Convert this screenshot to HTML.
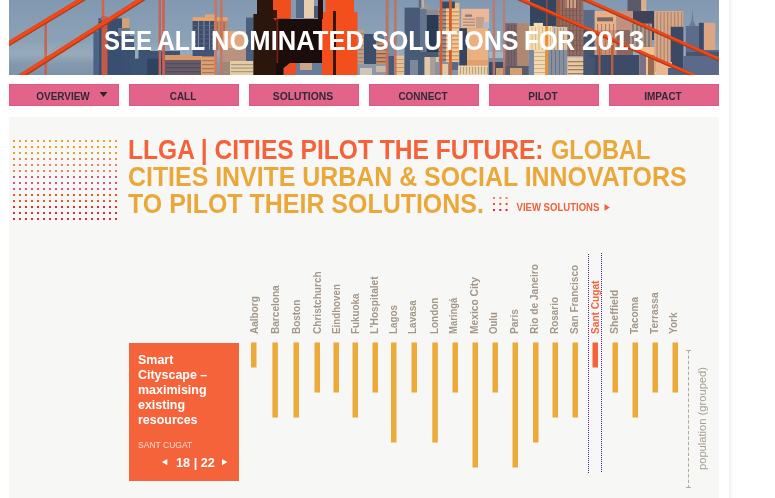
<!DOCTYPE html>
<html><head><meta charset="utf-8">
<style>
html,body{margin:0;padding:0;background:#fff;}
body{width:775px;height:498px;overflow:hidden;position:relative;font-family:"Liberation Sans",sans-serif;}
.abs{position:absolute;}
#banner{left:9px;top:0;width:710px;height:75px;overflow:hidden;}
.tw{top:25px;font-weight:bold;font-size:28px;line-height:32px;color:#fff;white-space:nowrap;transform-origin:0 0;}
.nav{top:84px;width:110px;height:22px;background:#e3648a;box-sizing:border-box;border:1px solid #e05a84;}
.nav span{position:absolute;left:-2px;top:-1px;width:110px;text-align:center;font-weight:bold;font-size:11px;line-height:24px;color:#2e2a33;white-space:nowrap;transform:scaleX(0.905);}
#panel{left:9px;top:117px;width:710px;height:381px;background:#f7f7f5;}
#vline{left:729px;top:0;width:4px;height:498px;background:linear-gradient(to right,#efefef,#f3f3f3 25%,#f9f9f9 60%,#fff);}
.h{font-weight:bold;font-size:26.8px;line-height:27px;white-space:nowrap;transform-origin:0 0;}
#card{left:129px;top:343px;width:110px;height:138px;background:#f5633b;}
#card .t{left:9px;top:9px;color:#fff;font-weight:bold;font-size:13px;line-height:15px;white-space:nowrap;transform-origin:0 0;transform:scaleX(0.958);}
svg text{font-family:"Liberation Sans",sans-serif;}
</style></head><body>
<div id="banner" class="abs"><svg width="710" height="75" viewBox="0 0 710 75" style="display:block">
<defs><linearGradient id="sky" x1="0" y1="0" x2="0" y2="1"><stop offset="0" stop-color="#8198b1"/><stop offset="0.55" stop-color="#8ba2b6"/><stop offset="0.72" stop-color="#98abbc"/><stop offset="0.85" stop-color="#8399ae"/><stop offset="1" stop-color="#7b93aa"/></linearGradient><filter id="bl" x="-2%" y="-10%" width="104%" height="120%"><feGaussianBlur stdDeviation="0.6"/></filter><filter id="bl2" x="-2%" y="-10%" width="104%" height="120%"><feGaussianBlur stdDeviation="0.4"/></filter></defs>
<rect x="0" y="0" width="710" height="75" fill="url(#sky)"/>
<g filter="url(#bl)">
<rect x="84.4" y="31.3" width="5.0" height="43.7" fill="#4a6388"/>
<rect x="89.4" y="18.3" width="23.6" height="56.7" fill="#37506f"/>
<rect x="113.0" y="18.3" width="7.4" height="9.9" fill="#d8a070"/>
<rect x="109.0" y="28.0" width="12.0" height="8.0" fill="#6a7890"/>
<rect x="113.0" y="36.0" width="12.0" height="14.0" fill="#4a5c7a"/>
<rect x="113.0" y="50.0" width="28.0" height="25.0" fill="#3a5070"/>
<rect x="121.0" y="51.0" width="50.0" height="24.0" fill="#3c5272"/>
<rect x="126.0" y="48.8" width="3.5" height="9.9" fill="#9aaabb"/>
<rect x="138.2" y="58.7" width="14.5" height="16.3" fill="#2e4262"/>
<rect x="155.7" y="55.0" width="36.3" height="5.0" fill="#d8986c"/>
<rect x="155.7" y="60.0" width="36.3" height="15.0" fill="#6a5a64"/>
<rect x="157.0" y="63.0" width="34.0" height="1.3" fill="#4e4c62"/>
<rect x="157.0" y="67.0" width="34.0" height="1.3" fill="#4e4c62"/>
<rect x="157.0" y="71.0" width="34.0" height="1.3" fill="#4e4c62"/>
<rect x="192.0" y="52.0" width="16.0" height="23.0" fill="#dca070"/>
<rect x="193.0" y="56.0" width="12.0" height="1.2" fill="#a87858"/>
<rect x="193.0" y="60.0" width="12.0" height="1.2" fill="#a87858"/>
<rect x="193.0" y="64.0" width="12.0" height="1.2" fill="#a87858"/>
<rect x="193.0" y="68.0" width="12.0" height="1.2" fill="#a87858"/>
<rect x="193.0" y="72.0" width="12.0" height="1.2" fill="#a87858"/>
<rect x="183.6" y="21.0" width="21.4" height="29.0" fill="#3f4d6a"/>
<rect x="205.0" y="21.0" width="13.7" height="29.0" fill="#c08a6a"/>
<rect x="183.6" y="17.3" width="35.1" height="3.5" fill="#eea468"/>
<rect x="196.0" y="14.5" width="10.0" height="3.0" fill="#e8a470"/>
<rect x="189.0" y="21.0" width="0.9" height="29.0" fill="#8a98ae"/>
<rect x="194.5" y="21.0" width="0.9" height="29.0" fill="#8a98ae"/>
<rect x="200.0" y="21.0" width="0.9" height="29.0" fill="#8a98ae"/>
<rect x="184.0" y="25.0" width="21.0" height="0.8" fill="#5a6884"/>
<rect x="184.0" y="29.5" width="21.0" height="0.8" fill="#5a6884"/>
<rect x="184.0" y="34.0" width="21.0" height="0.8" fill="#5a6884"/>
<rect x="184.0" y="38.5" width="21.0" height="0.8" fill="#5a6884"/>
<rect x="184.0" y="43.0" width="21.0" height="0.8" fill="#5a6884"/>
<rect x="184.0" y="47.5" width="21.0" height="0.8" fill="#5a6884"/>
<rect x="207.5" y="22.0" width="1.2" height="28.0" fill="#8a6a60"/>
<rect x="211.0" y="22.0" width="1.2" height="28.0" fill="#8a6a60"/>
<rect x="214.5" y="22.0" width="1.2" height="28.0" fill="#8a6a60"/>
<rect x="183.6" y="50.0" width="21.4" height="6.0" fill="#3f5575"/>
<rect x="214.0" y="31.0" width="23.0" height="17.0" fill="#e0a87c"/>
<rect x="214.0" y="48.0" width="23.0" height="14.0" fill="#b89480"/>
<rect x="214.0" y="62.0" width="9.0" height="13.0" fill="#a08878"/>
<rect x="237.0" y="17.6" width="7.5" height="44.4" fill="#4a6080"/>
<rect x="221.0" y="61.0" width="23.5" height="14.0" fill="#e6cca4"/>
<rect x="222.0" y="64.0" width="22.0" height="1.2" fill="#a89880"/>
<rect x="222.0" y="67.5" width="22.0" height="1.2" fill="#a89880"/>
<rect x="222.0" y="71.0" width="22.0" height="1.2" fill="#a89880"/>
<rect x="282.0" y="0.0" width="5.0" height="18.0" fill="#8599b2"/>
<rect x="287.0" y="0.0" width="8.0" height="18.0" fill="#5a6a88"/>
<rect x="295.0" y="0.0" width="10.0" height="18.0" fill="#e8cdb0"/>
<rect x="305.0" y="6.0" width="8.0" height="12.0" fill="#4a5a78"/>
<rect x="286.0" y="63.0" width="27.0" height="12.0" fill="#6a7c98"/>
<rect x="291.0" y="63.0" width="12.0" height="7.0" fill="#c8a888"/>
<rect x="348.5" y="29.7" width="6.5" height="40.3" fill="#c0a088"/>
<rect x="349.0" y="33.0" width="6.0" height="1.3" fill="#9a8478"/>
<rect x="349.0" y="37.0" width="6.0" height="1.3" fill="#9a8478"/>
<rect x="349.0" y="41.0" width="6.0" height="1.3" fill="#9a8478"/>
<rect x="349.0" y="45.0" width="6.0" height="1.3" fill="#9a8478"/>
<rect x="349.0" y="49.0" width="6.0" height="1.3" fill="#9a8478"/>
<rect x="349.0" y="53.0" width="6.0" height="1.3" fill="#9a8478"/>
<rect x="349.0" y="57.0" width="6.0" height="1.3" fill="#9a8478"/>
<rect x="349.0" y="61.0" width="6.0" height="1.3" fill="#9a8478"/>
<rect x="349.0" y="65.0" width="6.0" height="1.3" fill="#9a8478"/>
<rect x="349.0" y="69.0" width="6.0" height="1.3" fill="#9a8478"/>
<rect x="355.0" y="34.0" width="12.4" height="34.0" fill="#3e4d6c"/>
<rect x="367.4" y="34.0" width="7.6" height="9.0" fill="#6a7890"/>
<rect x="367.4" y="42.7" width="11.4" height="21.3" fill="#d09060"/>
<rect x="367.4" y="45.0" width="11.4" height="1.3" fill="#7a6460"/>
<rect x="367.4" y="49.0" width="11.4" height="1.3" fill="#7a6460"/>
<rect x="367.4" y="53.0" width="11.4" height="1.3" fill="#7a6460"/>
<rect x="367.4" y="57.0" width="11.4" height="1.3" fill="#7a6460"/>
<rect x="367.4" y="61.0" width="11.4" height="1.3" fill="#7a6460"/>
<rect x="348.5" y="64.0" width="37.5" height="11.0" fill="#8e98a8"/>
<rect x="351.0" y="68.0" width="12.0" height="7.0" fill="#d0c4b4"/>
<rect x="367.0" y="66.0" width="10.0" height="6.0" fill="#c8b8a8"/>
<rect x="379.0" y="41.0" width="7.0" height="15.0" fill="#7a8aa0"/>
<rect x="379.0" y="56.0" width="7.0" height="19.0" fill="#4a5a74"/>
<rect x="385.0" y="55.7" width="10.0" height="19.3" fill="#e8c098"/>
<rect x="385.5" y="59.0" width="9.5" height="1.1" fill="#c89870"/>
<rect x="385.5" y="63.0" width="9.5" height="1.1" fill="#c89870"/>
<rect x="385.5" y="67.0" width="9.5" height="1.1" fill="#c89870"/>
<rect x="385.5" y="71.0" width="9.5" height="1.1" fill="#c89870"/>
<rect x="395.6" y="7.6" width="16.0" height="46.4" fill="#4a5a78"/>
<rect x="411.6" y="7.6" width="6.1" height="46.4" fill="#66768f"/>
<rect x="411.0" y="5.0" width="10.0" height="4.0" fill="#a09890"/>
<rect x="409.8" y="0.0" width="2.7" height="7.6" fill="#5a6a80"/>
<rect x="412.5" y="0.0" width="2.5" height="7.6" fill="#c0b0a0"/>
<rect x="417.7" y="10.0" width="12.3" height="5.0" fill="#8a8a90"/>
<rect x="417.7" y="15.0" width="12.3" height="37.0" fill="#2c3a55"/>
<rect x="395.6" y="52.0" width="35.4" height="23.0" fill="#4a5a74"/>
<rect x="401.0" y="60.0" width="8.0" height="15.0" fill="#7a88a0"/>
<rect x="415.4" y="57.0" width="16.0" height="18.0" fill="#e0c8a8"/>
<rect x="421.0" y="57.0" width="6.0" height="18.0" fill="#a8a098"/>
<rect x="429.8" y="8.0" width="20.6" height="54.0" fill="#f0c898"/>
<rect x="429.8" y="8.0" width="7.2" height="54.0" fill="#b09080"/>
<rect x="433.0" y="1.5" width="12.8" height="6.9" fill="#3a4a64"/>
<rect x="437.0" y="11.0" width="13.0" height="1.5" fill="#d89860"/>
<rect x="437.0" y="15.0" width="13.0" height="1.5" fill="#d89860"/>
<rect x="437.0" y="19.0" width="13.0" height="1.5" fill="#d89860"/>
<rect x="437.0" y="23.0" width="13.0" height="1.5" fill="#d89860"/>
<rect x="437.0" y="27.0" width="13.0" height="1.5" fill="#d89860"/>
<rect x="437.0" y="31.0" width="13.0" height="1.5" fill="#d89860"/>
<rect x="437.0" y="35.0" width="13.0" height="1.5" fill="#d89860"/>
<rect x="437.0" y="39.0" width="13.0" height="1.5" fill="#d89860"/>
<rect x="437.0" y="43.0" width="13.0" height="1.5" fill="#d89860"/>
<rect x="437.0" y="47.0" width="13.0" height="1.5" fill="#d89860"/>
<rect x="437.0" y="51.0" width="13.0" height="1.5" fill="#d89860"/>
<rect x="437.0" y="55.0" width="13.0" height="1.5" fill="#d89860"/>
<rect x="437.0" y="59.0" width="13.0" height="1.5" fill="#d89860"/>
<rect x="430.0" y="11.0" width="7.0" height="1.5" fill="#6a6a78"/>
<rect x="430.0" y="15.0" width="7.0" height="1.5" fill="#6a6a78"/>
<rect x="430.0" y="19.0" width="7.0" height="1.5" fill="#6a6a78"/>
<rect x="430.0" y="23.0" width="7.0" height="1.5" fill="#6a6a78"/>
<rect x="430.0" y="27.0" width="7.0" height="1.5" fill="#6a6a78"/>
<rect x="430.0" y="31.0" width="7.0" height="1.5" fill="#6a6a78"/>
<rect x="430.0" y="35.0" width="7.0" height="1.5" fill="#6a6a78"/>
<rect x="430.0" y="39.0" width="7.0" height="1.5" fill="#6a6a78"/>
<rect x="430.0" y="43.0" width="7.0" height="1.5" fill="#6a6a78"/>
<rect x="430.0" y="47.0" width="7.0" height="1.5" fill="#6a6a78"/>
<rect x="430.0" y="51.0" width="7.0" height="1.5" fill="#6a6a78"/>
<rect x="430.0" y="55.0" width="7.0" height="1.5" fill="#6a6a78"/>
<rect x="430.0" y="59.0" width="7.0" height="1.5" fill="#6a6a78"/>
<rect x="446.0" y="3.0" width="4.4" height="5.0" fill="#e8b888"/>
<rect x="452.2" y="8.8" width="27.9" height="19.4" fill="#eab898"/>
<rect x="456.0" y="14.5" width="7.0" height="2.3" fill="#8a7878"/>
<rect x="454.0" y="18.5" width="12.0" height="1.4" fill="#b09080"/>
<rect x="454.0" y="21.5" width="12.0" height="1.4" fill="#b09080"/>
<rect x="454.0" y="24.5" width="12.0" height="1.4" fill="#b09080"/>
<rect x="467.5" y="17.0" width="1.0" height="11.0" fill="#a08878"/>
<rect x="469.5" y="17.0" width="1.0" height="11.0" fill="#a08878"/>
<rect x="471.5" y="17.0" width="1.0" height="11.0" fill="#a08878"/>
<rect x="473.5" y="17.0" width="1.0" height="11.0" fill="#a08878"/>
<rect x="474.0" y="22.0" width="6.0" height="6.0" fill="#b0b8c8"/>
<rect x="450.4" y="28.2" width="7.6" height="37.4" fill="#34455f"/>
<rect x="458.0" y="28.2" width="21.0" height="46.8" fill="#eab080"/>
<rect x="458.0" y="60.0" width="21.0" height="15.0" fill="#e0a070"/>
<rect x="426.0" y="62.0" width="23.0" height="13.0" fill="#8a92a4"/>
<rect x="431.0" y="64.0" width="8.0" height="11.0" fill="#e0c8a8"/>
<rect x="443.0" y="62.0" width="6.0" height="8.0" fill="#5a6a84"/>
<rect x="449.0" y="65.6" width="30.0" height="9.4" fill="#e8d0a8"/>
<rect x="451.0" y="67.0" width="1.0" height="7.0" fill="#b8a080"/>
<rect x="454.0" y="67.0" width="1.0" height="7.0" fill="#b8a080"/>
<rect x="457.0" y="67.0" width="1.0" height="7.0" fill="#b8a080"/>
<rect x="460.0" y="67.0" width="1.0" height="7.0" fill="#b8a080"/>
<rect x="463.0" y="67.0" width="1.0" height="7.0" fill="#b8a080"/>
<rect x="466.0" y="67.0" width="1.0" height="7.0" fill="#b8a080"/>
<rect x="469.0" y="67.0" width="1.0" height="7.0" fill="#b8a080"/>
<rect x="472.0" y="67.0" width="1.0" height="7.0" fill="#b8a080"/>
<rect x="475.0" y="67.0" width="1.0" height="7.0" fill="#b8a080"/>
<rect x="478.0" y="67.0" width="1.0" height="7.0" fill="#b8a080"/>
<rect x="480.0" y="52.0" width="16.2" height="6.0" fill="#a8b6c4"/>
<rect x="480.0" y="58.0" width="16.2" height="4.0" fill="#7a8aa0"/>
<rect x="480.0" y="62.0" width="16.2" height="13.0" fill="#3e4c62"/>
<rect x="487.0" y="68.0" width="7.0" height="7.0" fill="#c8a070"/>
<rect x="496.2" y="23.2" width="12.2" height="42.8" fill="#7a6468"/>
<rect x="508.4" y="23.2" width="11.3" height="42.8" fill="#b08870"/>
<rect x="499.0" y="25.0" width="1.0" height="41.0" fill="#6a5860"/>
<rect x="502.0" y="25.0" width="1.0" height="41.0" fill="#6a5860"/>
<rect x="505.0" y="25.0" width="1.0" height="41.0" fill="#6a5860"/>
<rect x="496.2" y="66.0" width="23.5" height="9.0" fill="#5a5a68"/>
<rect x="501.0" y="68.0" width="12.0" height="7.0" fill="#d0a070"/>
<rect x="521.0" y="0.0" width="26.6" height="26.0" fill="#36445e"/>
<rect x="537.0" y="0.0" width="1.5" height="26.0" fill="#8a5040"/>
<rect x="547.6" y="0.0" width="3.4" height="57.0" fill="#a05838"/>
<rect x="551.0" y="0.0" width="23.3" height="56.0" fill="#946c64"/>
<rect x="556.0" y="0.0" width="11.0" height="8.0" fill="#d0a080"/>
<rect x="553.0" y="0.0" width="1.1" height="56.0" fill="#7a5850"/>
<rect x="556.5" y="0.0" width="1.1" height="56.0" fill="#7a5850"/>
<rect x="560.0" y="0.0" width="1.1" height="56.0" fill="#7a5850"/>
<rect x="563.5" y="0.0" width="1.1" height="56.0" fill="#7a5850"/>
<rect x="567.0" y="0.0" width="1.1" height="56.0" fill="#7a5850"/>
<rect x="570.5" y="0.0" width="1.1" height="56.0" fill="#7a5850"/>
<rect x="551.0" y="10.0" width="23.3" height="1.0" fill="#7a5850" opacity="0.6"/>
<rect x="551.0" y="15.0" width="23.3" height="1.0" fill="#7a5850" opacity="0.6"/>
<rect x="551.0" y="20.0" width="23.3" height="1.0" fill="#7a5850" opacity="0.6"/>
<rect x="551.0" y="25.0" width="23.3" height="1.0" fill="#7a5850" opacity="0.6"/>
<rect x="551.0" y="30.0" width="23.3" height="1.0" fill="#7a5850" opacity="0.6"/>
<rect x="551.0" y="35.0" width="23.3" height="1.0" fill="#7a5850" opacity="0.6"/>
<rect x="551.0" y="40.0" width="23.3" height="1.0" fill="#7a5850" opacity="0.6"/>
<rect x="551.0" y="45.0" width="23.3" height="1.0" fill="#7a5850" opacity="0.6"/>
<rect x="551.0" y="50.0" width="23.3" height="1.0" fill="#7a5850" opacity="0.6"/>
<rect x="551.0" y="55.0" width="23.3" height="1.0" fill="#7a5850" opacity="0.6"/>
<rect x="520.0" y="26.0" width="23.0" height="24.0" fill="#f4dcb0"/>
<rect x="543.0" y="27.0" width="15.3" height="23.0" fill="#d8c0a0"/>
<rect x="524.7" y="22.9" width="9.3" height="3.1" fill="#f4dcb0"/>
<rect x="522.5" y="27.0" width="1.0" height="23.0" fill="#dcb888"/>
<rect x="526.0" y="27.0" width="1.0" height="23.0" fill="#dcb888"/>
<rect x="529.5" y="27.0" width="1.0" height="23.0" fill="#dcb888"/>
<rect x="533.0" y="27.0" width="1.0" height="23.0" fill="#dcb888"/>
<rect x="541.0" y="27.0" width="1.0" height="23.0" fill="#dcb888"/>
<rect x="545.0" y="28.0" width="1.0" height="22.0" fill="#a89888"/>
<rect x="548.0" y="28.0" width="1.0" height="22.0" fill="#a89888"/>
<rect x="551.0" y="28.0" width="1.0" height="22.0" fill="#a89888"/>
<rect x="554.0" y="28.0" width="1.0" height="22.0" fill="#a89888"/>
<rect x="520.0" y="50.0" width="5.0" height="25.0" fill="#7888a0"/>
<rect x="525.0" y="50.0" width="11.2" height="25.0" fill="#f0d8b0"/>
<rect x="525.0" y="52.0" width="11.0" height="1.0" fill="#d0b088"/>
<rect x="525.0" y="56.0" width="11.0" height="1.0" fill="#d0b088"/>
<rect x="525.0" y="60.0" width="11.0" height="1.0" fill="#d0b088"/>
<rect x="525.0" y="64.0" width="11.0" height="1.0" fill="#d0b088"/>
<rect x="525.0" y="68.0" width="11.0" height="1.0" fill="#d0b088"/>
<rect x="525.0" y="72.0" width="11.0" height="1.0" fill="#d0b088"/>
<rect x="539.2" y="50.0" width="19.1" height="25.0" fill="#8890a0"/>
<rect x="542.0" y="50.0" width="1.0" height="25.0" fill="#6a7488"/>
<rect x="546.0" y="50.0" width="1.0" height="25.0" fill="#6a7488"/>
<rect x="550.0" y="50.0" width="1.0" height="25.0" fill="#6a7488"/>
<rect x="554.0" y="50.0" width="1.0" height="25.0" fill="#6a7488"/>
<rect x="536.2" y="26.0" width="3.0" height="49.0" fill="#e8903c"/>
<rect x="558.3" y="57.2" width="19.7" height="17.8" fill="#e8c8a0"/>
<rect x="559.0" y="61.0" width="19.0" height="1.3" fill="#9a8068"/>
<rect x="559.0" y="65.0" width="19.0" height="1.3" fill="#9a8068"/>
<rect x="559.0" y="69.0" width="19.0" height="1.3" fill="#9a8068"/>
<rect x="559.0" y="73.0" width="19.0" height="1.3" fill="#9a8068"/>
<rect x="574.3" y="10.0" width="11.4" height="20.0" fill="#5a6a84"/>
<rect x="574.3" y="30.0" width="11.4" height="45.0" fill="#44546e"/>
<rect x="585.7" y="11.0" width="21.8" height="19.0" fill="#e6b088"/>
<rect x="588.0" y="17.3" width="16.0" height="4.0" fill="#7a6860"/>
<rect x="585.7" y="30.0" width="21.8" height="25.0" fill="#d09070"/>
<rect x="588.0" y="24.0" width="1.0" height="31.0" fill="#b07860"/>
<rect x="592.0" y="24.0" width="1.0" height="31.0" fill="#b07860"/>
<rect x="596.0" y="24.0" width="1.0" height="31.0" fill="#b07860"/>
<rect x="600.0" y="24.0" width="1.0" height="31.0" fill="#b07860"/>
<rect x="604.0" y="24.0" width="1.0" height="31.0" fill="#b07860"/>
<rect x="581.0" y="55.0" width="50.0" height="20.0" fill="#3c4c68"/>
<rect x="578.0" y="57.0" width="7.7" height="18.0" fill="#44546e"/>
<rect x="589.5" y="45.0" width="2.0" height="30.0" fill="#b86040"/>
<rect x="602.0" y="45.0" width="2.4" height="30.0" fill="#b86040"/>
<rect x="618.5" y="0.0" width="13.7" height="11.0" fill="#5a5a68"/>
<rect x="632.2" y="0.0" width="5.2" height="11.0" fill="#d8b090"/>
<rect x="607.5" y="11.0" width="16.5" height="19.0" fill="#c09080"/>
<rect x="607.5" y="30.0" width="16.5" height="25.0" fill="#8a6860"/>
<rect x="624.0" y="11.0" width="21.3" height="29.0" fill="#40435a"/>
<rect x="621.0" y="23.6" width="22.0" height="26.4" fill="#b09888"/>
<rect x="623.0" y="24.0" width="2.0" height="26.0" fill="#7a6868" opacity="0.7"/>
<rect x="627.0" y="24.0" width="2.0" height="26.0" fill="#7a6868" opacity="0.7"/>
<rect x="631.0" y="24.0" width="2.0" height="26.0" fill="#7a6868" opacity="0.7"/>
<rect x="635.0" y="24.0" width="2.0" height="26.0" fill="#7a6868" opacity="0.7"/>
<rect x="639.0" y="24.0" width="2.0" height="26.0" fill="#7a6868" opacity="0.7"/>
<rect x="630.4" y="47.0" width="30.6" height="28.0" fill="#f0c090"/>
<rect x="639.0" y="55.0" width="6.3" height="20.0" fill="#9a6a50"/>
<rect x="630.4" y="52.0" width="6.6" height="23.0" fill="#7a7088"/>
<rect x="645.3" y="11.0" width="29.1" height="61.0" fill="#d8a888"/>
<rect x="647.5" y="12.0" width="1.3" height="58.0" fill="#b08870"/>
<rect x="651.0" y="12.0" width="1.3" height="58.0" fill="#b08870"/>
<rect x="654.5" y="12.0" width="1.3" height="58.0" fill="#b08870"/>
<rect x="658.0" y="12.0" width="1.3" height="58.0" fill="#b08870"/>
<rect x="661.5" y="12.0" width="1.3" height="58.0" fill="#b08870"/>
<rect x="665.0" y="12.0" width="1.3" height="58.0" fill="#b08870"/>
<rect x="668.5" y="12.0" width="1.3" height="58.0" fill="#b08870"/>
<rect x="672.0" y="12.0" width="1.3" height="58.0" fill="#b08870"/>
<rect x="661.8" y="26.8" width="12.6" height="43.2" fill="#3a4a66"/>
<rect x="647.0" y="62.0" width="16.0" height="13.0" fill="#e8b890"/>
<rect x="659.0" y="68.0" width="22.0" height="7.0" fill="#506080"/>
<rect x="676.8" y="26.0" width="13.1" height="49.0" fill="#5c6c8a"/>
<polygon points="680.0,26.0 682.5,21.0 683.4,8.7 684.3,21.0 687.0,26.0" fill="#6c7c98"/>
<rect x="689.9" y="22.8" width="5.0" height="52.2" fill="#3c4c6c"/>
<rect x="694.9" y="22.8" width="11.3" height="27.2" fill="#dca684"/>
<rect x="689.9" y="50.0" width="20.1" height="25.0" fill="#566886"/>
<rect x="677.0" y="52.0" width="33.0" height="4.0" fill="#46566f"/>
<rect x="674.4" y="56.0" width="35.6" height="19.0" fill="#5a6a88"/>
</g>
<g filter="url(#bl2)">
<rect x="35.3" y="22.0" width="2.7" height="53.0" fill="#c8604c" opacity="0.9"/>
<rect x="92.8" y="0.0" width="2.5" height="16.0" fill="#d9644a"/>
<rect x="92.5" y="16.0" width="6.0" height="59.0" fill="#c25a48"/>
<rect x="149.6" y="0.0" width="2.4" height="75.0" fill="#c9634f"/>
<rect x="153.2" y="0.0" width="2.6" height="75.0" fill="#c9634f"/>
<rect x="205.4" y="0.0" width="2.6" height="75.0" fill="#d07058" opacity="0.85"/>
<rect x="210.8" y="0.0" width="2.9" height="75.0" fill="#d07058" opacity="0.85"/>
<rect x="376.6" y="0.0" width="3.0" height="75.0" fill="#c07060" opacity="0.9"/>
<rect x="385.0" y="0.0" width="2.6" height="75.0" fill="#c07060" opacity="0.9"/>
<rect x="430.8" y="0.0" width="2.5" height="75.0" fill="#d06030"/>
<rect x="440.0" y="0.0" width="2.8" height="75.0" fill="#d06030"/>
<rect x="483.6" y="0.0" width="2.6" height="75.0" fill="#c07868" opacity="0.9"/>
<rect x="494.0" y="0.0" width="2.2" height="75.0" fill="#c07868" opacity="0.9"/>
<rect x="244.4" y="14.0" width="22.6" height="61.0" fill="#2a1210"/>
<rect x="248.0" y="0.0" width="19.0" height="14.0" fill="#2a1210"/>
<rect x="264.0" y="0.0" width="18.0" height="18.0" fill="#f0501e"/>
<rect x="264.0" y="10.0" width="4.0" height="8.5" fill="#3a1410"/>
<polygon points="264.0,18.0 282.0,18.0 277.0,21.0 267.0,21.0" fill="#c8401c"/>
<rect x="267.0" y="19.0" width="46.0" height="44.0" fill="#1c0b0b"/>
<rect x="267.5" y="19.0" width="1.8" height="44.0" fill="#7a2418"/>
<polygon points="274.6,75.0 274.6,68.0 281.0,63.0 288.0,63.0 286.0,75.0" fill="#ee4e20"/>
<polygon points="267.0,63.0 281.0,63.0 274.6,68.0 274.6,75.0 267.0,75.0" fill="#1c0b0b"/>
<rect x="313.0" y="12.0" width="35.5" height="63.0" fill="#f2501f"/>
<rect x="316.5" y="0.0" width="28.5" height="12.0" fill="#f2501f"/>
<rect x="324.0" y="11.0" width="3.0" height="64.0" fill="#3a1410"/>
<rect x="309.0" y="0.0" width="5.0" height="19.0" fill="#2a1010"/>
<line x1="-4.0" y1="46.0" x2="76.0" y2="-2.2" stroke="#b03a18" stroke-width="4.8"/>
<line x1="-4.0" y1="45.2" x2="76.0" y2="-3.0" stroke="#ee4a1c" stroke-width="3.5999999999999996"/>
<line x1="5.0" y1="80.6" x2="136.0" y2="-2.6" stroke="#b03a18" stroke-width="4.8"/>
<line x1="5.0" y1="79.8" x2="136.0" y2="-3.4" stroke="#ee4a1c" stroke-width="3.5999999999999996"/>
<line x1="507.6" y1="-2.2" x2="688.0" y2="77.1" stroke="#b03a18" stroke-width="3.6"/>
<line x1="507.6" y1="-3.0" x2="688.0" y2="76.3" stroke="#ee4a1c" stroke-width="2.4000000000000004"/>
<line x1="572.4" y1="-2.0" x2="714.6" y2="61.6" stroke="#b03a18" stroke-width="3.6"/>
<line x1="572.4" y1="-2.8" x2="714.6" y2="60.8" stroke="#ee4a1c" stroke-width="2.4000000000000004"/>
<line x1="-4.0" y1="41.2" x2="76.0" y2="-7.0" stroke="#9a9aa6" stroke-width="1" opacity="0.6"/>
<line x1="5.0" y1="75.0" x2="136.0" y2="-8.3" stroke="#a09aa0" stroke-width="1" opacity="0.6"/>
</g>
</svg></div>
<div class="abs tw" style="left:104.05px;transform:scaleX(0.8551)">SEE</div><div class="abs tw" style="left:157.02px;transform:scaleX(0.8811)">ALL</div><div class="abs tw" style="left:210.97px;transform:scaleX(0.9135)">NOMINATED</div><div class="abs tw" style="left:371.50px;transform:scaleX(0.8975)">SOLUTIONS</div><div class="abs tw" style="left:524.08px;transform:scaleX(0.8640)">FOR</div><div class="abs tw" style="left:581.89px;transform:scaleX(1.0001)">2013</div>
<div class="abs nav" style="left:9px"><span>OVERVIEW</span></div>
<div class="abs nav" style="left:129px"><span>CALL</span></div>
<div class="abs nav" style="left:249px"><span style="transform:scaleX(0.94)">SOLUTIONS</span></div>
<div class="abs nav" style="left:369px"><span>CONNECT</span></div>
<div class="abs nav" style="left:489px"><span>PILOT</span></div>
<div class="abs nav" style="left:609px"><span>IMPACT</span></div>
<svg class="abs" style="left:99px;top:91px" width="10" height="7"><path d="M0.7 0.9h7.6L4.5 6z" fill="#2a2228"/></svg>
<div id="vline" class="abs"></div>
<div id="panel" class="abs"></div>
<svg class="abs" style="left:0;top:0" width="775" height="498" viewBox="0 0 775 498">
<path d="M13 141h104" stroke="#f0a020" stroke-width="2" stroke-dasharray="2 4"/>
<path d="M13 147h104" stroke="#f0a020" stroke-width="2" stroke-dasharray="2 4"/>
<path d="M13 153h104" stroke="#f0a020" stroke-width="2" stroke-dasharray="2 4"/>
<path d="M13 159h104" stroke="#f08060" stroke-width="2" stroke-dasharray="2 4"/>
<path d="M13 165h104" stroke="#f08060" stroke-width="2" stroke-dasharray="2 4"/>
<path d="M13 171h104" stroke="#f08060" stroke-width="2" stroke-dasharray="2 4"/>
<path d="M13 177h104" stroke="#e05080" stroke-width="2" stroke-dasharray="2 4"/>
<path d="M13 183h104" stroke="#e05080" stroke-width="2" stroke-dasharray="2 4"/>
<path d="M13 189h104" stroke="#e05080" stroke-width="2" stroke-dasharray="2 4"/>
<path d="M13 195h104" stroke="#f85020" stroke-width="2" stroke-dasharray="2 4"/>
<path d="M13 201h104" stroke="#f85020" stroke-width="2" stroke-dasharray="2 4"/>
<path d="M13 207h104" stroke="#e22a38" stroke-width="2" stroke-dasharray="2 4"/>
<path d="M13 213h104" stroke="#e22a38" stroke-width="2" stroke-dasharray="2 4"/>
<path d="M13 219h104" stroke="#e22a38" stroke-width="2" stroke-dasharray="2 4"/>
<g font-weight="bold" font-size="11">
<rect x="251" y="342.5" width="5.5" height="25.0" fill="#ecaa3a"/>
<text transform="translate(257.8 334) rotate(-90)" fill="#a39788" textLength="37.9" lengthAdjust="spacingAndGlyphs">Aalborg</text>
<rect x="272.4" y="342.5" width="5.5" height="75.0" fill="#ecaa3a"/>
<text transform="translate(278.8 334) rotate(-90)" fill="#a39788" textLength="48.7" lengthAdjust="spacingAndGlyphs">Barcelona</text>
<rect x="293.5" y="342.5" width="5.5" height="75.0" fill="#ecaa3a"/>
<text transform="translate(299.9 334) rotate(-90)" fill="#a39788" textLength="34.2" lengthAdjust="spacingAndGlyphs">Boston</text>
<rect x="314.5" y="342.5" width="5.5" height="50.0" fill="#ecaa3a"/>
<text transform="translate(320.8 334) rotate(-90)" fill="#a39788" textLength="62.7" lengthAdjust="spacingAndGlyphs">Christchurch</text>
<rect x="333.5" y="342.5" width="5.5" height="50.0" fill="#ecaa3a"/>
<text transform="translate(339.8 334) rotate(-90)" fill="#a39788" textLength="49.9" lengthAdjust="spacingAndGlyphs">Eindhoven</text>
<rect x="352.5" y="342.5" width="5.5" height="75.0" fill="#ecaa3a"/>
<text transform="translate(359 334) rotate(-90)" fill="#a39788" textLength="40.6" lengthAdjust="spacingAndGlyphs">Fukuoka</text>
<rect x="372.5" y="342.5" width="5.5" height="50.0" fill="#ecaa3a"/>
<text transform="translate(378 334) rotate(-90)" fill="#a39788" textLength="57.6" lengthAdjust="spacingAndGlyphs">L'Hospitalet</text>
<rect x="391" y="342.5" width="5.5" height="100.0" fill="#ecaa3a"/>
<text transform="translate(397 334) rotate(-90)" fill="#a39788" textLength="29.1" lengthAdjust="spacingAndGlyphs">Lagos</text>
<rect x="411.5" y="342.5" width="5.5" height="50.0" fill="#ecaa3a"/>
<text transform="translate(416.4 334) rotate(-90)" fill="#a39788" textLength="33.8" lengthAdjust="spacingAndGlyphs">Lavasa</text>
<rect x="432.3" y="342.5" width="5.5" height="100.0" fill="#ecaa3a"/>
<text transform="translate(437.7 334) rotate(-90)" fill="#a39788" textLength="36.3" lengthAdjust="spacingAndGlyphs">London</text>
<rect x="452.5" y="342.5" width="5.5" height="50.0" fill="#ecaa3a"/>
<text transform="translate(456.9 334) rotate(-90)" fill="#a39788" textLength="36.3" lengthAdjust="spacingAndGlyphs">Maringá</text>
<rect x="472.5" y="342.5" width="5.5" height="125.0" fill="#ecaa3a"/>
<text transform="translate(477.6 334) rotate(-90)" fill="#a39788" textLength="57.0" lengthAdjust="spacingAndGlyphs">Mexico City</text>
<rect x="492.5" y="342.5" width="5.5" height="50.0" fill="#ecaa3a"/>
<text transform="translate(497.4 334) rotate(-90)" fill="#a39788" textLength="21.8" lengthAdjust="spacingAndGlyphs">Oulu</text>
<rect x="512.5" y="342.5" width="5.5" height="125.0" fill="#ecaa3a"/>
<text transform="translate(517.5 334) rotate(-90)" fill="#a39788" textLength="24.9" lengthAdjust="spacingAndGlyphs">Paris</text>
<rect x="533" y="342.5" width="5.5" height="100.0" fill="#ecaa3a"/>
<text transform="translate(537.7 334) rotate(-90)" fill="#a39788" textLength="70.0" lengthAdjust="spacingAndGlyphs">Rio de Janeiro</text>
<rect x="552.5" y="342.5" width="5.5" height="75.0" fill="#ecaa3a"/>
<text transform="translate(558.2 334) rotate(-90)" fill="#a39788" textLength="37.0" lengthAdjust="spacingAndGlyphs">Rosario</text>
<rect x="572.5" y="342.5" width="5.5" height="75.0" fill="#ecaa3a"/>
<text transform="translate(578.2 334) rotate(-90)" fill="#a39788" textLength="69.2" lengthAdjust="spacingAndGlyphs">San Francisco</text>
<rect x="592.5" y="342.5" width="5.5" height="25.0" fill="#f5633b"/>
<text transform="translate(598.5 334) rotate(-90)" fill="#f5633b" textLength="53.5" lengthAdjust="spacingAndGlyphs">Sant Cugat</text>
<rect x="612.5" y="342.5" width="5.5" height="50.0" fill="#ecaa3a"/>
<text transform="translate(618.1 334) rotate(-90)" fill="#a39788" textLength="44.2" lengthAdjust="spacingAndGlyphs">Sheffield</text>
<rect x="632.5" y="342.5" width="5.5" height="75.0" fill="#ecaa3a"/>
<text transform="translate(637.5 334) rotate(-90)" fill="#a39788" textLength="37.0" lengthAdjust="spacingAndGlyphs">Tacoma</text>
<rect x="652.5" y="342.5" width="5.5" height="50.0" fill="#ecaa3a"/>
<text transform="translate(657.8 334) rotate(-90)" fill="#a39788" textLength="41.7" lengthAdjust="spacingAndGlyphs">Terrassa</text>
<rect x="672.5" y="342.5" width="5.5" height="50.0" fill="#ecaa3a"/>
<text transform="translate(677.4 334) rotate(-90)" fill="#a39788" textLength="21.5" lengthAdjust="spacingAndGlyphs">York</text>
</g>
<path d="M588.5 254v219" stroke="#4f1f99" stroke-width="1" stroke-dasharray="1 1"/>
<path d="M601.5 253v219" stroke="#4f1f99" stroke-width="1" stroke-dasharray="1 1"/>
<path d="M688.5 350v138" stroke="#b3ab9d" stroke-width="1" stroke-dasharray="3.4 2"/>
<path d="M686 350.5h5M686 487.5h5" stroke="#b3ab9d" stroke-width="1"/>
<text transform="translate(705.5 470) rotate(-90)" fill="#a8a092" font-size="11" textLength="103" lengthAdjust="spacingAndGlyphs">population (grouped)</text>
<path d="M493 198h15" stroke="#f08060" stroke-width="2" stroke-dasharray="2 4.3"/>
<path d="M493 204h15" stroke="#f85020" stroke-width="2" stroke-dasharray="2 4.3"/>
<path d="M493 210h15" stroke="#e02050" stroke-width="2" stroke-dasharray="2 4.3"/>
<path d="M604.5 204.1l5.3 3.3l-5.3 3.3z" fill="#f0603c"/>
<text x="516.5" y="210.8" fill="#f0603c" font-weight="bold" font-size="10.2" textLength="82.9" lengthAdjust="spacingAndGlyphs">VIEW SOLUTIONS</text>
</svg>
<div class="abs h" style="left:128.3px;top:137.3px;color:#f5623a;transform:scaleX(0.9171)">LLGA | CITIES PILOT THE FUTURE:</div>
<div class="abs h" style="left:550.6px;top:137.3px;color:#eba83a;transform:scaleX(0.8785)">GLOBAL</div>
<div class="abs h" style="left:128.3px;top:164.3px;color:#eba83a;transform:scaleX(0.9294)">CITIES INVITE URBAN &amp; SOCIAL INNOVATORS</div>
<div class="abs h" style="left:128.3px;top:191.3px;color:#eba83a;transform:scaleX(0.9313)">TO PILOT THEIR SOLUTIONS.</div>
<div id="card" class="abs">
<div class="abs t">Smart<br>Cityscape –<br>maximising<br>existing<br>resources</div>
<div class="abs" style="left:9px;top:96px;color:#fcdad0;font-size:9px;line-height:12px;white-space:nowrap;transform-origin:0 0;transform:scaleX(0.948)">SANT CUGAT</div>
<div class="abs" style="left:47.3px;top:112px;color:#fff;font-weight:bold;font-size:13px;line-height:16px;white-space:nowrap;transform-origin:0 0;transform:scaleX(0.977)">18 | 22</div>
<svg class="abs" style="left:32px;top:115px" width="70" height="9"><path d="M6.3 0.9v6.4L0.9 4.1z" fill="#fff"/><path d="M61 0.9v6.4l5.4-3.2z" fill="#fff"/></svg>
</div>
</body></html>
